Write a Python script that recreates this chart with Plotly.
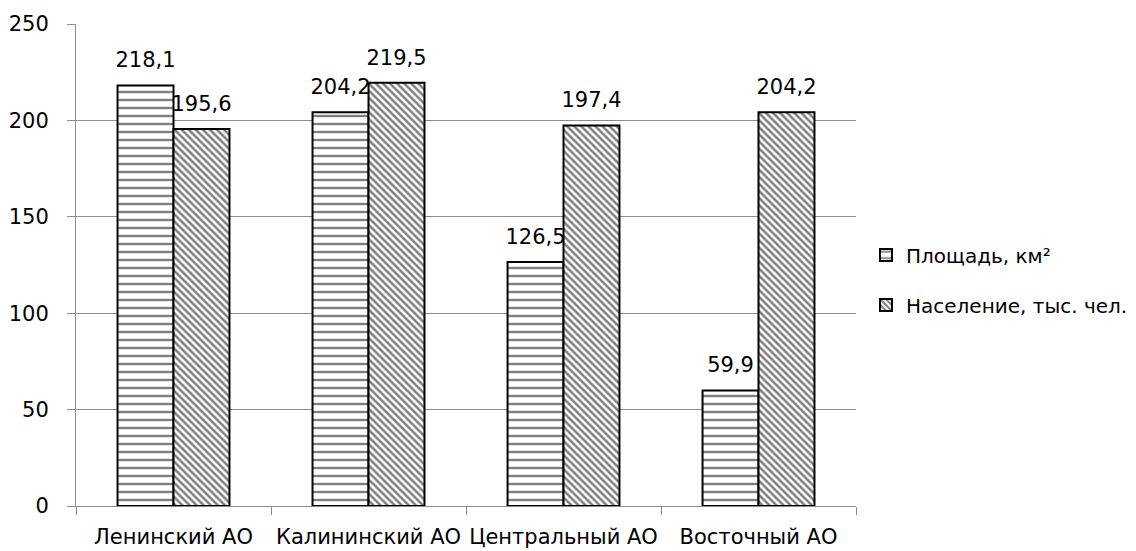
import plotly.graph_objects as go

categories = ["Ленинский АО", "Калининский АО", "Центральный АО", "Восточный АО"]
area_km2 = [218.1, 204.2, 126.5, 59.9]
population_k = [195.6, 219.5, 197.4, 204.2]
series_names = ["Площадь, км²", "Население, тыс. чел."]
y_ticks = [0, 50, 100, 150, 200, 250]

FONT = "DejaVu Sans"
FS = 21
GRID = "#8c8c8c"

fig = go.Figure()
patterns = [
    dict(shape="-", fgcolor="black", bgcolor="white", size=8, solidity=0.3),
    dict(shape="\\", fgcolor="black", bgcolor="white", size=5, solidity=0.5),
]
for i, (name, vals) in enumerate(zip(series_names, [area_km2, population_k])):
    fig.add_trace(go.Bar(
        x=categories, y=vals, name=name,
        offsetgroup=str(i), alignmentgroup="g",
        legendgroup=str(i),
        marker=dict(color="white", line=dict(color="black", width=2), pattern=patterns[i]),
    ))
    fig.add_trace(go.Scatter(
        x=categories, y=vals, mode="markers+text",
        offsetgroup=str(i), alignmentgroup="g",
        text=[f"{v:.1f}".replace(".", ",") for v in vals],
        textposition="top center",
        marker=dict(size=19, opacity=0, color="white"),
        textfont=dict(family=FONT, size=FS, color="black"),
        showlegend=False, hoverinfo="skip", cliponaxis=False,
    ))

fig.update_layout(
    width=1128, height=543,
    margin=dict(l=68, r=280, t=16, b=45, autoexpand=False),
    paper_bgcolor="white", plot_bgcolor="white",
    separators=", ",
    barmode="group", bargap=0.426, bargroupgap=0,
    scattermode="group",
    font=dict(family=FONT, size=FS, color="black"),
    showlegend=True,
    legend=dict(x=1.0128, xanchor="left", y=0.469, yanchor="middle",
                font=dict(family=FONT, size=20, color="black"),
                traceorder="grouped", tracegroupgap=21),
)
fig.update_xaxes(
    type="category", tickson="boundaries", ticks="outside", ticklen=8, tickcolor=GRID,
    showline=True, linecolor=GRID, linewidth=1, showgrid=False, automargin=False,
    tickangle=0, ticklabelstandoff=12,
    tickfont=dict(family=FONT, size=FS, color="black"),
)
fig.update_yaxes(
    range=[0, 250], tickvals=y_ticks, ticks="outside", ticklen=8, tickcolor=GRID,
    showline=True, linecolor=GRID, linewidth=1, automargin=False,
    showgrid=True, gridcolor=GRID, gridwidth=1, zeroline=False,
    tickfont=dict(family=FONT, size=FS, color="black"),
    ticklabelstandoff=14,
)

fig.write_html("out.html")
